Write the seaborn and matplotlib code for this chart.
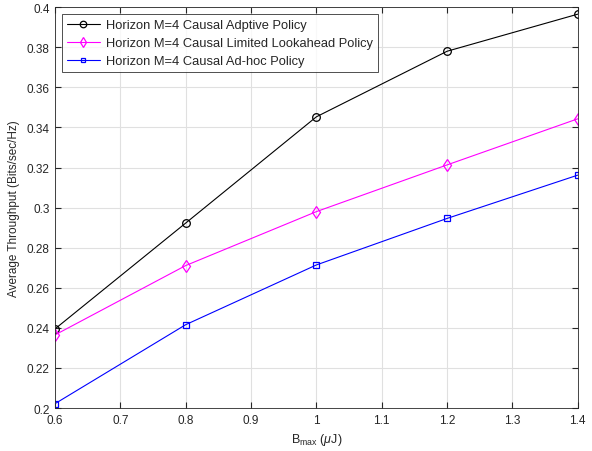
import numpy as np
import pandas as pd
import matplotlib
matplotlib.use("Agg")
import matplotlib.pyplot as plt
import seaborn as sns
from matplotlib.ticker import FuncFormatter

# values
b_max = [0.6, 0.8, 1.0, 1.2, 1.4]
adaptive = [0.2395, 0.2923, 0.3453, 0.3780, 0.3965]
lookahead = [0.2365, 0.2711, 0.2980, 0.3213, 0.3443]
adhoc = [0.2022, 0.2416, 0.2714, 0.2946, 0.3162]

names = ["Horizon M=4 Causal Adptive Policy",
         "Horizon M=4 Causal Limited Lookahead Policy",
         "Horizon M=4 Causal Ad-hoc Policy"]
colors = ["black", "#ff00ff", "#0000ff"]
markers = ["o", "d", "s"]
msizes = [5.5, 6, 3.8]

df = pd.DataFrame({
    "B": b_max * 3,
    "thr": adaptive + lookahead + adhoc,
    "policy": np.repeat(names, len(b_max)),
})

sns.set_style("white")
plt.rcParams["font.family"] = ["Liberation Sans", "DejaVu Sans"]
plt.rcParams["mathtext.fontset"] = "custom"
plt.rcParams["mathtext.rm"] = "Liberation Sans"
plt.rcParams["mathtext.it"] = "Liberation Sans:italic"

fig = plt.figure(figsize=(5.92, 4.52), dpi=100)
ax = fig.add_axes([0.093, 0.095, 0.883, 0.887])

for name, c, m, ms in zip(names, colors, markers, msizes):
    sns.lineplot(data=df[df["policy"] == name], x="B", y="thr", color=c,
                 marker=m, markersize=ms, linewidth=0.8, label=name, ax=ax)

for line in ax.lines:
    line.set_markerfacecolor("none")
    line.set_markeredgecolor(line.get_color())
    line.set_markeredgewidth(0.9)

ax.set_xlim(0.6, 1.4)
ax.set_ylim(0.2, 0.4)
ax.set_xticks(np.arange(0.6, 1.41, 0.1))
ax.set_yticks(np.arange(0.2, 0.401, 0.02))
ax.xaxis.set_major_formatter(FuncFormatter(lambda v, p: f"{v:g}"))
ax.yaxis.set_major_formatter(FuncFormatter(lambda v, p: f"{round(v, 2):g}"))
ax.grid(True, color="#e0e0e0", linewidth=0.8)
ax.tick_params(direction="in", length=4, labelsize=8.5, colors="#262626",
               top=True, right=True, bottom=True, left=True,
               labeltop=False, labelright=False, pad=4)
for s in ax.spines.values():
    s.set_color("#262626")
    s.set_linewidth(0.6)

ax.set_xlabel(r"B$_{\mathrm{max}}$ ($\mu$J)", fontsize=9, color="#262626", labelpad=4)
ax.set_ylabel("Average Throughput (Bits/sec/Hz)", fontsize=8.5, color="#262626", labelpad=5)

leg = ax.legend(loc="upper left", fontsize=9.3, frameon=True, fancybox=False,
                borderpad=0.4, handlelength=2.5, labelspacing=0.45,
                borderaxespad=0.55, handletextpad=0.5, markerscale=0.85)
leg.get_frame().set_edgecolor("black")
leg.get_frame().set_linewidth(0.6)

fig.savefig("out.png", dpi=100)
